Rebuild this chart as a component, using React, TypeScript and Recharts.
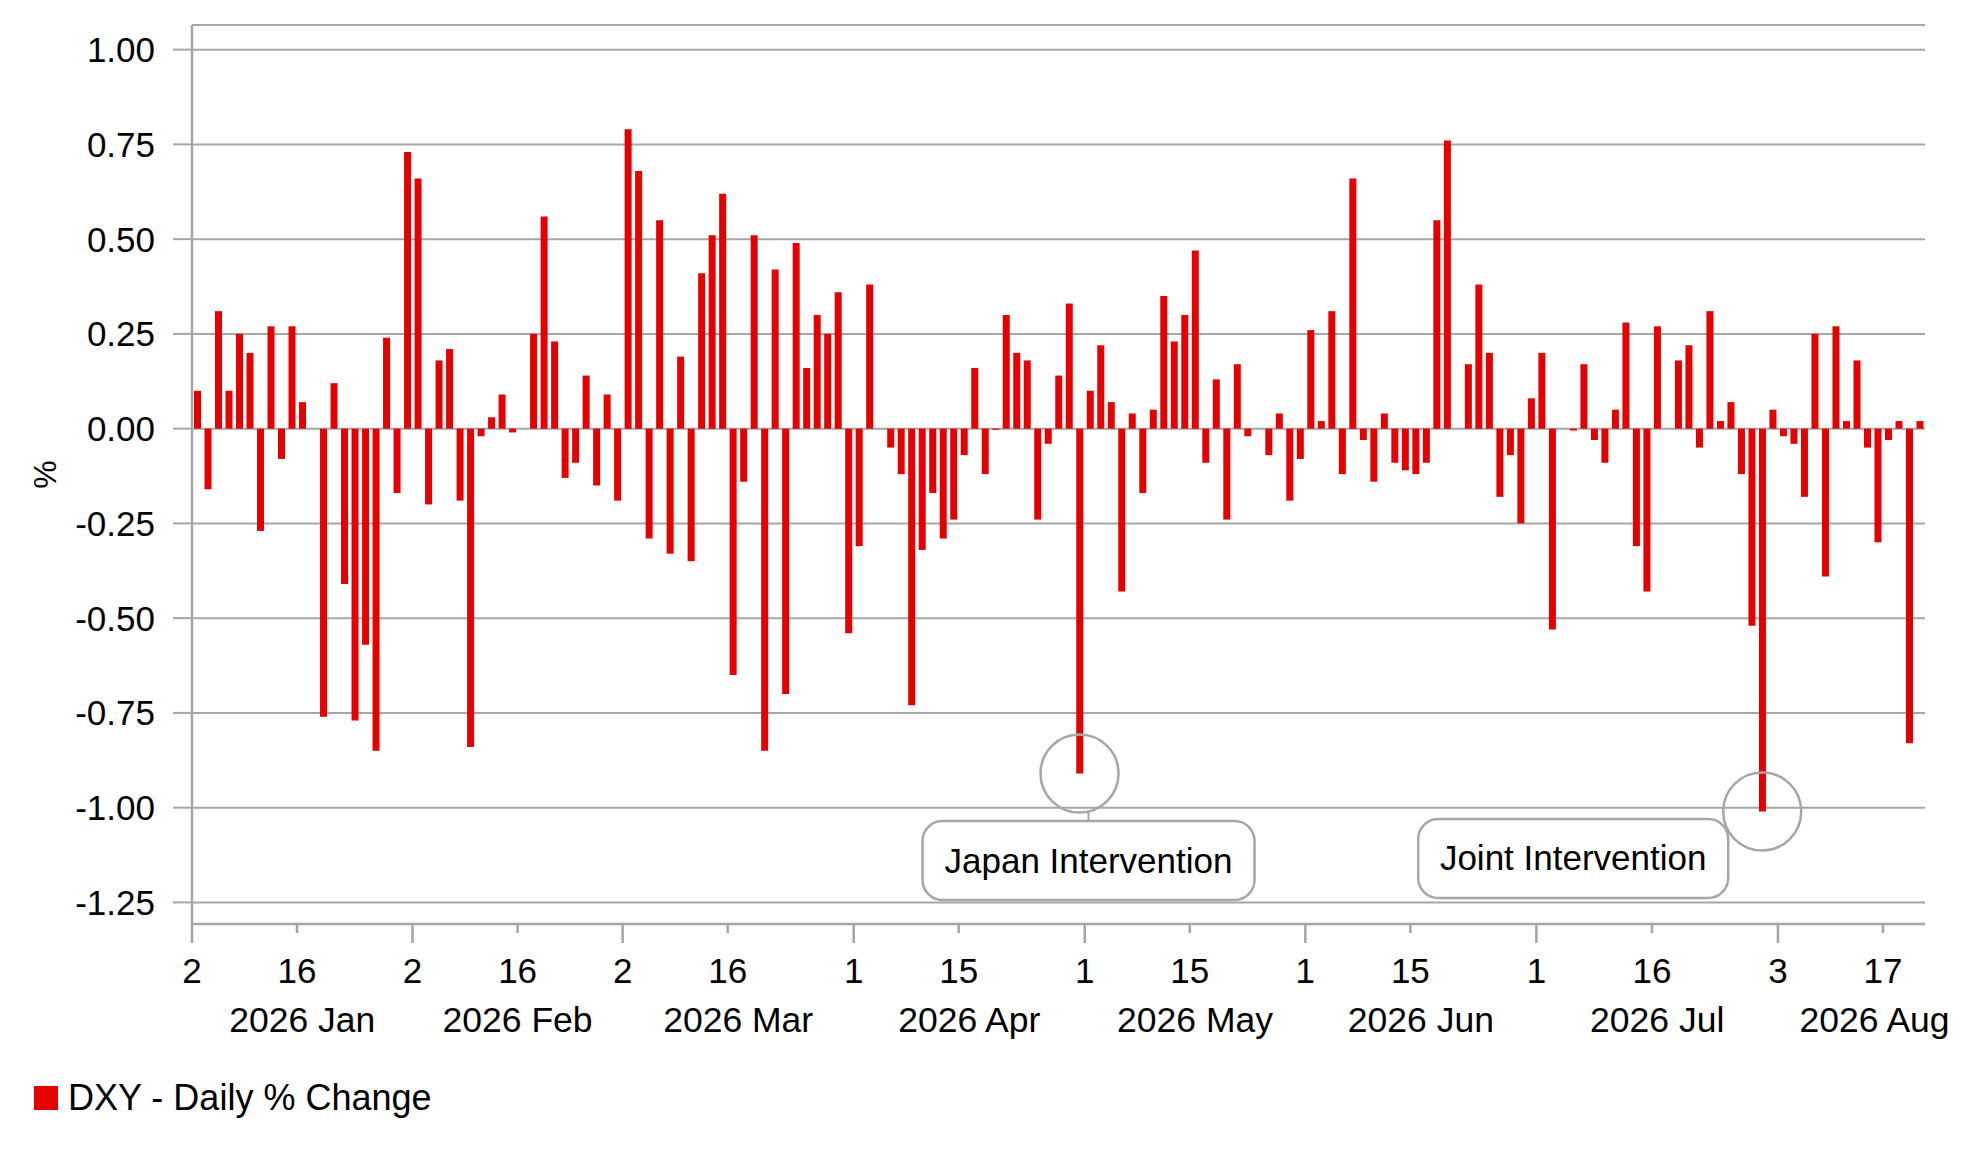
import React from 'react';
import { ComposedChart, Bar, XAxis, YAxis, CartesianGrid, ReferenceDot, Legend } from 'recharts';

const FONT = "'Liberation Sans', Arial, sans-serif";
const RED = '#e60000';
const GRAY = '#a6a6a6';

// ---- Categories (trading days) and values, by month ----
const janDays = [2, 5, 6, 7, 8, 9, 12, 13, 14, 15, 16, 19, 20, 21, 22, 23, 26, 27, 28, 29, 30];
const janValues = [0.10, -0.16, 0.31, 0.10, 0.25, 0.20, -0.27, 0.27, -0.08, 0.27, 0.07, 0, -0.76, 0.12, -0.41, -0.77, -0.57, -0.85, 0.24, -0.17, 0.73];

const febDays = [2, 3, 4, 5, 6, 9, 10, 11, 12, 13, 16, 17, 18, 19, 20, 23, 24, 25, 26, 27];
const febValues = [0.66, -0.20, 0.18, 0.21, -0.19, -0.84, -0.02, 0.03, 0.09, -0.01, 0, 0.25, 0.56, 0.23, -0.13, -0.09, 0.14, -0.15, 0.09, -0.19];

const marDays = [2, 3, 4, 5, 6, 9, 10, 11, 12, 13, 16, 17, 18, 19, 20, 23, 24, 25, 26, 27, 30, 31];
const marValues = [0.79, 0.68, -0.29, 0.55, -0.33, 0.19, -0.35, 0.41, 0.51, 0.62, -0.65, -0.14, 0.51, -0.85, 0.42, -0.70, 0.49, 0.16, 0.30, 0.25, 0.36, -0.54];

const aprDays = [1, 2, 3, 6, 7, 8, 9, 10, 13, 14, 15, 16, 17, 20, 21, 22, 23, 24, 27, 28, 29, 30];
const aprValues = [-0.31, 0.38, 0, -0.05, -0.12, -0.73, -0.32, -0.17, -0.29, -0.24, -0.07, 0.16, -0.12, -0.003, 0.30, 0.20, 0.18, -0.24, -0.04, 0.14, 0.33, -0.91];

const mayDays = [1, 4, 5, 6, 7, 8, 11, 12, 13, 14, 15, 18, 19, 20, 21, 22, 25, 26, 27, 28, 29];
const mayValues = [0.10, 0.22, 0.07, -0.43, 0.04, -0.17, 0.05, 0.35, 0.23, 0.30, 0.47, -0.09, 0.13, -0.24, 0.17, -0.02, 0, -0.07, 0.04, -0.19, -0.08];

const junDays = [1, 2, 3, 4, 5, 8, 9, 10, 11, 12, 15, 16, 17, 18, 19, 22, 23, 24, 25, 26, 29, 30];
const junValues = [0.26, 0.02, 0.31, -0.12, 0.66, -0.03, -0.14, 0.04, -0.09, -0.11, -0.12, -0.09, 0.55, 0.76, 0, 0.17, 0.38, 0.20, -0.18, -0.07, -0.25, 0.08];

const julDays = [1, 2, 3, 6, 7, 8, 9, 10, 13, 14, 15, 16, 17, 20, 21, 22, 23, 24, 27, 28, 29, 30, 31];
const julValues = [0.20, -0.53, 0, -0.005, 0.17, -0.03, -0.09, 0.05, 0.28, -0.31, -0.43, 0.27, 0, 0.18, 0.22, -0.05, 0.31, 0.02, 0.07, -0.12, -0.52, -1.01, 0.05];

const augDays = [3, 4, 5, 6, 7, 10, 11, 12, 13, 14, 17, 18, 19, 20];
const augValues = [-0.02, -0.04, -0.18, 0.25, -0.39, 0.27, 0.02, 0.18, -0.05, -0.30, -0.03, 0.02, -0.83, 0.02];

const monthNames = ['Jan', 'Feb', 'Mar', 'Apr', 'May', 'Jun', 'Jul', 'Aug'];
const monthDays = [janDays, febDays, marDays, aprDays, mayDays, junDays, julDays, augDays];
const monthValues = [janValues, febValues, marValues, aprValues, mayValues, junValues, julValues, augValues];

// ---- Tick labels ----
const dayTickDates = ['Jan 2', 'Jan 16', 'Feb 2', 'Feb 16', 'Mar 2', 'Mar 16', 'Apr 1', 'Apr 15', 'May 1', 'May 15', 'Jun 1', 'Jun 15', 'Jul 1', 'Jul 16', 'Aug 3', 'Aug 17'];
const monthLabels = ['2026 Jan', '2026 Feb', '2026 Mar', '2026 Apr', '2026 May', '2026 Jun', '2026 Jul', '2026 Aug'];
const monthLabelPos = [10.5, 31, 52, 74, 95.5, 117, 139.5, 160.2];
const yTicks = [-1.25, -1, -0.75, -0.5, -0.25, 0, 0.25, 0.5, 0.75, 1];
const SERIES_NAME = 'DXY - Daily % Change';

// ---- Build the table the chart needs ----
type Row = { date: string; month: string; day: number; value: number; pos: number; first: boolean };
const data: Row[] = [];
monthNames.forEach((m, mi) => {
  monthDays[mi].forEach((d, k) => {
    data.push({ date: `${m} ${d}`, month: m, day: d, value: monthValues[mi][k], pos: data.length + 0.5, first: k === 0 });
  });
});

const dayTicks = dayTickDates.map((d) => data.findIndex((r) => r.date === d));
const dayTickLabels = dayTickDates.map((d) => d.split(' ')[1]);
const dayTickMajor = dayTickDates.map((d) => {
  const r = data.find((x) => x.date === d);
  return r ? r.first : false;
});

const annotations = [
  { date: 'Apr 30', text: 'Japan Intervention', dx: 9, dy: 87, w: 332, connector: true },
  { date: 'Jul 30', text: 'Joint Intervention', dx: -189, dy: 47, w: 310, connector: false },
];

function DayTick(props: any) {
  const { x, y, payload } = props;
  const k = dayTicks.indexOf(payload.value);
  if (k < 0) return <g />;
  const major = dayTickMajor[k];
  return (
    <g>
      <line x1={x} x2={x} y1={y} y2={y + (major ? 19 : 9)} stroke={GRAY} strokeWidth={2.5} />
      <text x={x} y={y + 59} textAnchor="middle" fontSize={35} fontFamily={FONT} fill="#000">
        {dayTickLabels[k]}
      </text>
    </g>
  );
}

function MonthTick(props: any) {
  const { x, y, payload } = props;
  const k = monthLabelPos.indexOf(payload.value);
  if (k < 0) return <g />;
  return (
    <text x={x} y={y + 48} textAnchor="middle" fontSize={35.5} fontFamily={FONT} fill="#000">
      {monthLabels[k]}
    </text>
  );
}

function Callout(props: any) {
  const { cx, cy, ann } = props;
  if (cx == null || cy == null) return <g />;
  const h = 79;
  const bx = cx + ann.dx;
  const by = cy + ann.dy;
  return (
    <g>
      <circle cx={cx} cy={cy} r={39} fill="none" stroke={GRAY} strokeWidth={2.5} />
      {ann.connector ? (
        <line x1={bx} x2={bx} y1={cy + 39} y2={by - h / 2} stroke={GRAY} strokeWidth={2} />
      ) : null}
      <rect x={bx - ann.w / 2} y={by - h / 2} width={ann.w} height={h} rx={20} ry={20} fill="#fff" stroke={GRAY} strokeWidth={2.5} />
      <text x={bx} y={by + 12} textAnchor="middle" fontSize={35} fontFamily={FONT} fill="#000">
        {ann.text}
      </text>
    </g>
  );
}

function YLabel(props: any) {
  const vb = props.viewBox || { x: 0, y: 17, width: 184, height: 899 };
  const cx = vb.x + 37;
  const cy = vb.y + vb.height / 2;
  return (
    <text x={cx} y={cy} transform={`rotate(-90 ${cx} ${cy})`} textAnchor="middle" dominantBaseline="central" fontSize={32} fontFamily={FONT} fill="#000">
      %
    </text>
  );
}

function LegendContent() {
  return (
    <div style={{ display: 'flex', alignItems: 'center', fontFamily: FONT, fontSize: 36, lineHeight: '36px', color: '#000', whiteSpace: 'nowrap' }}>
      <span style={{ width: 24, height: 24, background: RED, display: 'inline-block', marginRight: 10 }} />
      <span>{SERIES_NAME}</span>
    </div>
  );
}

export default function App() {
  const n = data.length;
  return (
    <div style={{ width: 1951, height: 1148 }}>
      <ComposedChart
        width={1951}
        height={1148}
        data={data}
        margin={{ top: 17, right: 34, left: 0, bottom: 112 }}
        style={{ fontFamily: FONT }}
      >
        <CartesianGrid xAxisId="day" vertical={false} stroke={GRAY} strokeWidth={2} />
        <XAxis
          xAxisId="day"
          dataKey="pos"
          type="number"
          domain={[0, n]}
          ticks={dayTicks}
          interval={0}
          height={60}
          tickSize={0}
          tickMargin={0}
          tickLine={false}
          axisLine={{ stroke: GRAY, strokeWidth: 2.5 }}
          tick={(p: any) => <DayTick {...p} />}
          allowDataOverflow
        />
        <XAxis
          xAxisId="month"
          dataKey="pos"
          type="number"
          domain={[0, n]}
          ticks={monthLabelPos}
          interval={0}
          height={60}
          tickSize={0}
          tickMargin={0}
          tickLine={false}
          axisLine={false}
          tick={(p: any) => <MonthTick {...p} />}
          allowDataOverflow
        />
        <YAxis
          type="number"
          domain={[-1.307, 1.065]}
          ticks={yTicks}
          interval={0}
          width={184}
          tickSize={19}
          tickMargin={18}
          tickLine={{ stroke: GRAY, strokeWidth: 2 }}
          axisLine={{ stroke: GRAY, strokeWidth: 2.5 }}
          tick={{ fill: '#000', fontSize: 35, fontFamily: FONT }}
          tickFormatter={(v: number) => v.toFixed(2)}
          allowDataOverflow
          label={{ content: (p: any) => <YLabel {...p} /> }}
        />
        <Bar xAxisId="day" dataKey="value" name={SERIES_NAME} fill={RED} barSize={7} isAnimationActive={false} />
        {annotations.map((a) => {
          const r = data.find((x) => x.date === a.date)!;
          return (
            <ReferenceDot
              key={a.date}
              xAxisId="day"
              x={r.pos}
              y={r.value}
              r={39}
              ifOverflow="visible"
              shape={(p: any) => <Callout {...p} ann={a} />}
            />
          );
        })}
        <Legend
          layout="vertical"
          align="center"
          verticalAlign="middle"
          wrapperStyle={{ left: 26, top: 1072, width: 'auto', height: 'auto', right: 'auto', bottom: 'auto' }}
          content={() => <LegendContent />}
        />
      </ComposedChart>
    </div>
  );
}
